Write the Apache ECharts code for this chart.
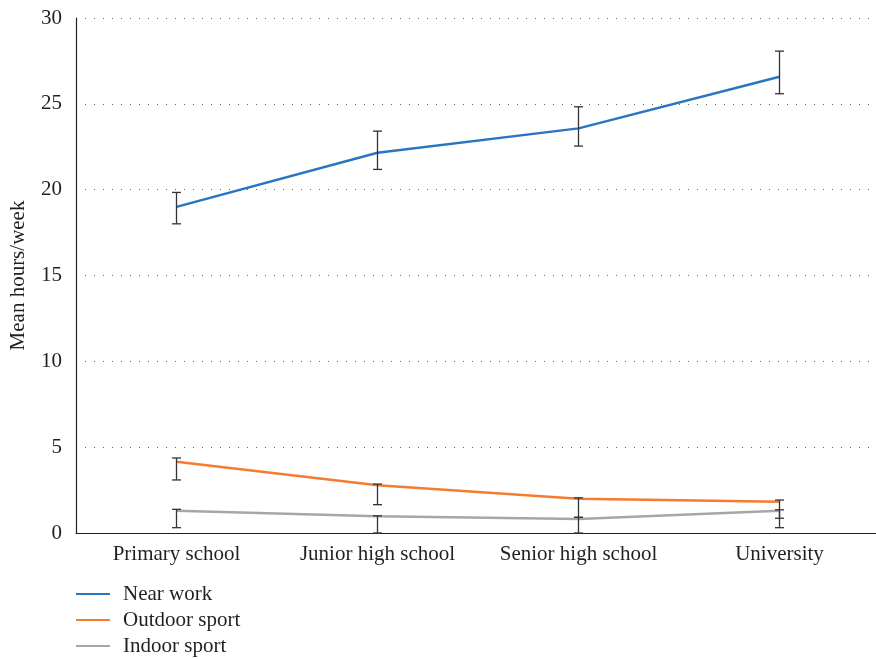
<!DOCTYPE html>
<html>
<head>
<meta charset="utf-8">
<script src="https://cdn.jsdelivr.net/npm/echarts@6/dist/echarts.min.js"></script>
<style>
	html, body { margin: 0; padding: 0; background: #fff; }
	#main { width: 876px; height: 659px; }
</style>
</head>
<body>
<div id="main"></div>
<script>
'use strict';
// categories and tick labels
var stages = ['Primary school', 'Junior high school', 'Senior high school', 'University'];
var yTicks = [0, 5, 10, 15, 20, 25, 30];

// means
var nearWork = [19.0, 22.15, 23.57, 26.58];
var outdoorSport = [4.15, 2.78, 2.0, 1.82];
var indoorSport = [1.3, 0.97, 0.82, 1.3];

// error bar low / high
var nearWorkLow = [18.01, 21.18, 22.54, 25.59];
var nearWorkHigh = [19.84, 23.41, 24.83, 28.07];
var outdoorLow = [3.09, 1.65, 0.91, 0.86];
var outdoorHigh = [4.37, 2.85, 2.05, 1.92];
var indoorLow = [0.31, 0, 0, 0.31];
var indoorHigh = [1.38, 1.0, 0.91, 1.35];

var fontFam = '"Liberation Serif", "DejaVu Serif", serif';
var textColor = '#231f20';
var fs = 21;

function errData(low, high) {
	var out = [];
	for (var i = 0; i < low.length; i++) {
		out.push([i, low[i], high[i]]);
	}
	return out;
}

function errSeries(low, high) {
	return {
		type : 'custom',
		silent : true,
		z : 5,
		renderItem : function(params, api) {
			var x = api.value(0);
			var lo = api.coord([x, api.value(1)]);
			var hi = api.coord([x, api.value(2)]);
			var w = 4.5;
			var style = { stroke : '#333333', lineWidth : 1.3 };
			return {
				type : 'group',
				children : [
					{ type : 'line', shape : { x1 : lo[0], y1 : lo[1], x2 : hi[0], y2 : hi[1] }, style : style },
					{ type : 'line', shape : { x1 : lo[0] - w, y1 : lo[1], x2 : lo[0] + w, y2 : lo[1] }, style : style },
					{ type : 'line', shape : { x1 : hi[0] - w, y1 : hi[1], x2 : hi[0] + w, y2 : hi[1] }, style : style }
				]
			};
		},
		encode : { x : 0, y : [1, 2] },
		data : errData(low, high)
	};
}

function lineSeries(name, data, color) {
	return {
		name : name,
		type : 'line',
		data : data,
		symbol : 'none',
		z : 3,
		lineStyle : { color : color, width : 2.5 },
		itemStyle : { color : color }
	};
}

var chart = echarts.init(document.getElementById('main'));

var option = {
	animation : false,
	textStyle : { fontFamily : fontFam },
	grid : {
		left : 76,
		top : 18,
		width : 804,
		height : 515,
		outerBoundsMode : 'none',
		containLabel : false
	},
	legend : {
		orient : 'vertical',
		left : 76,
		top : 583,
		height : 120,
		padding : 0,
		itemWidth : 34,
		itemHeight : 2,
		itemGap : 4,
		icon : 'rect',
		textStyle : { fontFamily : fontFam, fontSize : fs, lineHeight : 22, color : textColor, padding : [0, 0, 0, 8] },
		data : ['Near work', 'Outdoor sport', 'Indoor sport']
	},
	xAxis : {
		type : 'category',
		data : stages,
		boundaryGap : true,
		axisLine : { lineStyle : { color : '#231f20', width : 1.2 } },
		axisTick : { show : false },
		axisLabel : { interval : 0, fontFamily : fontFam, fontSize : fs, color : textColor, margin : 11 }
	},
	yAxis : {
		type : 'value',
		min : yTicks[0],
		max : yTicks[yTicks.length - 1],
		interval : 5,
		name : 'Mean hours/week',
		nameLocation : 'middle',
		nameGap : 47,
		nameTextStyle : { fontFamily : fontFam, fontSize : fs, color : textColor },
		axisLine : { show : true, lineStyle : { color : '#231f20', width : 1.2 } },
		axisTick : { show : false },
		axisLabel : { fontFamily : fontFam, fontSize : fs, color : textColor, margin : 14 },
		splitLine : {
			show : true,
			lineStyle : { color : '#666666', width : 1, type : [1, 8] }
		}
	},
	series : [
		lineSeries('Near work', nearWork, '#2a75c2'),
		lineSeries('Outdoor sport', outdoorSport, '#f47b30'),
		lineSeries('Indoor sport', indoorSport, '#a6a6a6'),
		errSeries(nearWorkLow, nearWorkHigh),
		errSeries(outdoorLow, outdoorHigh),
		errSeries(indoorLow, indoorHigh)
	]
};

chart.setOption(option);
</script>
</body>
</html>
